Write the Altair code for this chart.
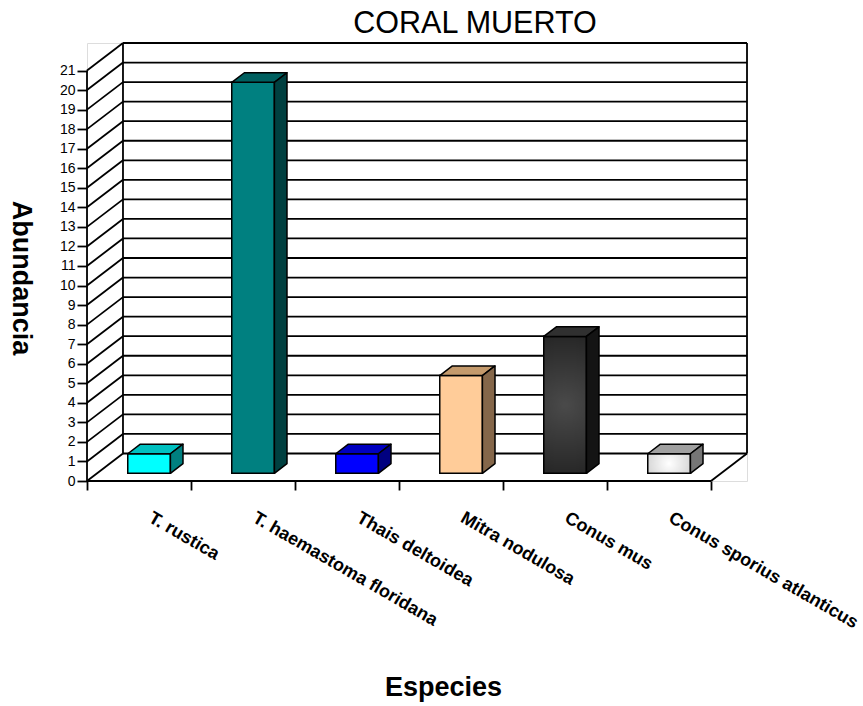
import altair as alt
import pandas as pd

# ---- data -------------------------------------------------------------
species = [
    "T. rustica",
    "T. haemastoma floridana",
    "Thais deltoidea",
    "Mitra nodulosa",
    "Conus mus",
    "Conus sporius atlanticus",
]
abundance = [1, 20, 1, 5, 7, 1]
front_colors = ["#00FFFF", "#008080", "#0000FF", "#FFCC99", "#262626", "#DCDCDC"]
top_colors = ["#00C0C0", "#006060", "#0000C0", "#C49A6C", "#303030", "#A0A0A0"]
side_colors = ["#008080", "#004040", "#000080", "#85674A", "#141414", "#767676"]
y_ticks = list(range(0, 22))
chart_title = "CORAL MUERTO"

# ---- pseudo-3D geometry (in data units) --------------------------------
N = len(species)
DEPTH_X = 0.346      # depth axis projected on x (category units)
DEPTH_Y = 1.407      # depth axis projected on y (abundance units)
BAR_W = 0.41         # bar width, fraction of a category
D0, D1 = 0.28, 0.63  # bar front / back position along the depth axis
Y_TOP = max(y_ticks)
X_MAX = N + DEPTH_X
Y_MAX = Y_TOP + DEPTH_Y

FONT = "Liberation Sans"
LINE_W = 1.8

x_scale = alt.Scale(domain=[0, X_MAX], nice=False, zero=False)
y_scale = alt.Scale(domain=[0, Y_MAX], nice=False, zero=False)

x_axis = alt.Axis(
    values=list(range(N + 1)), labels=False, domain=False, grid=False,
    ticks=True, tickSize=9, tickColor="black", tickWidth=LINE_W,
    title="Especies", titleFont=FONT, titleFontSize=27, titleFontWeight="bold",
    titleColor="black", titleX=356, titleY=214, titleAlign="center",
    titleBaseline="alphabetic", titleAnchor="start",
)
y_axis = alt.Axis(
    values=y_ticks, domain=False, grid=False, ticks=True, tickSize=10,
    tickColor="black", tickWidth=LINE_W, labelFont=FONT, labelFontSize=14,
    labelColor="black", labelPadding=2, labelBaseline="middle",
    title="Abundancia", titleFont=FONT, titleFontSize=27, titleFontWeight="bold",
    titleColor="black", titleAngle=90, titleX=-75, titleY=234.5,
    titleAlign="center", titleBaseline="alphabetic", titleAnchor="start",
)


def xq(field):
    return alt.X(field, scale=x_scale, axis=x_axis, stack=None)


def yq(field):
    return alt.Y(field, scale=y_scale, axis=y_axis, stack=None)


# ---- walls, floor and grid lines ---------------------------------------
seg = []
for v in y_ticks:
    # left wall diagonal and back wall horizontal for each gridline
    seg.append(dict(x=0, y=v, x2=DEPTH_X, y2=v + DEPTH_Y))
    seg.append(dict(x=DEPTH_X, y=v + DEPTH_Y, x2=N + DEPTH_X, y2=v + DEPTH_Y))
seg += [
    dict(x=0, y=0, x2=N, y2=0),                                          # floor front edge
    dict(x=N, y=0, x2=N + DEPTH_X, y2=DEPTH_Y),                          # floor right edge
    dict(x=N + DEPTH_X, y=DEPTH_Y, x2=N + DEPTH_X, y2=Y_TOP + DEPTH_Y),  # back wall right
    dict(x=DEPTH_X, y=DEPTH_Y, x2=DEPTH_X, y2=Y_TOP + DEPTH_Y),          # back wall left
    dict(x=0, y=0, x2=0, y2=Y_TOP),                                      # value axis line
]
lines = pd.DataFrame(seg)

frame = alt.Chart(lines).mark_rule(color="black", strokeWidth=LINE_W).encode(
    x=xq("x:Q"), y=yq("y:Q"), x2="x2:Q", y2="y2:Q",
)

# ---- bar faces ---------------------------------------------------------
shift_x = (D1 - D0) * DEPTH_X
front_rows, top_rows, side_rows = [], [], []
for i, (s, v) in enumerate(zip(species, abundance)):
    x0 = i + 0.5 - BAR_W / 2 + D0 * DEPTH_X
    x1 = x0 + BAR_W
    base0 = D0 * DEPTH_Y
    base1 = D1 * DEPTH_Y
    front_rows.append(dict(sp=s, x=x0, x2=x1, y=base0, y2=v + base0, c=front_colors[i]))
    top_rows.append(dict(sp=s, yy=v + base0, xa=x0, xb=x1, c=top_colors[i]))
    top_rows.append(dict(sp=s, yy=v + base1, xa=x0 + shift_x, xb=x1 + shift_x, c=top_colors[i]))
    side_rows.append(dict(sp=s, xx=x1, ya=base0, yb=v + base0, c=side_colors[i]))
    side_rows.append(dict(sp=s, xx=x1 + shift_x, ya=base1, yb=v + base1, c=side_colors[i]))

front = pd.DataFrame(front_rows)
top = pd.DataFrame(top_rows)
side = pd.DataFrame(side_rows)

front_faces = alt.Chart(front).mark_rect(stroke="black", strokeWidth=1.5).encode(
    x=xq("x:Q"), x2="x2:Q", y=yq("y:Q"), y2="y2:Q",
    fill=alt.Fill("c:N", scale=None),
)


def shaded(name, inner, outer):
    grad = {
        "gradient": "radial",
        "x1": 0.5, "y1": 0.5, "r1": 0.0,
        "x2": 0.5, "y2": 0.5, "r2": 0.75,
        "stops": [
            {"offset": 0.0, "color": inner},
            {"offset": 1.0, "color": outer},
        ],
    }
    return alt.Chart(front).transform_filter(alt.datum.sp == name).mark_rect(
        fill=grad, stroke="black", strokeWidth=1.5
    ).encode(x=xq("x:Q"), x2="x2:Q", y=yq("y:Q"), y2="y2:Q")


# parallelogram faces: one two-point area per bar, sorted by its own axis
top_faces = alt.Chart(top).mark_area(
    orient="horizontal", stroke="black", strokeWidth=1.5, strokeJoin="round"
).encode(
    y=yq("yy:Q"), x=xq("xa:Q"), x2="xb:Q",
    detail="sp:N",
    fill=alt.Fill("c:N", scale=None),
)

side_faces = alt.Chart(side).mark_area(
    orient="vertical", stroke="black", strokeWidth=1.5, strokeJoin="round"
).encode(
    x=xq("xx:Q"), y=yq("ya:Q"), y2="yb:Q",
    detail="sp:N",
    fill=alt.Fill("c:N", scale=None),
)

# ---- category labels ---------------------------------------------------
labels = pd.DataFrame(dict(sp=species, x=[i + 0.5 for i in range(N)], y=[0] * N))
label_text = alt.Chart(labels).mark_text(
    angle=30, align="left", baseline="top", dx=27.5, dy=16.5,
    font=FONT, fontWeight="bold", fontSize=18, color="black",
).encode(x=xq("x:Q"), y=yq("y:Q"), text="sp:N")

# ---- chart title -------------------------------------------------------
title_text = alt.Chart(pd.DataFrame({"t": [chart_title]})).mark_text(
    align="center", baseline="alphabetic", font=FONT, fontSize=30.5,
    fontWeight="normal", color="black",
).encode(text="t:N", x=alt.value(388), y=alt.value(-10))

chart = alt.layer(
    frame,
    front_faces,
    shaded("Conus mus", "#4A4A4A", "#161616"),
    shaded("Conus sporius atlanticus", "#FFFFFF", "#C4C4C4"),
    top_faces,
    side_faces,
    label_text,
    title_text,
).properties(
    width=660,
    height=438,
    autosize=alt.AutoSizeParams(type="none"),
    padding={"left": 87, "top": 43, "right": 116, "bottom": 225},
).configure_view(stroke=None).configure(background="white")

chart.save("out.html", embed_options={"renderer": "svg", "actions": False})
